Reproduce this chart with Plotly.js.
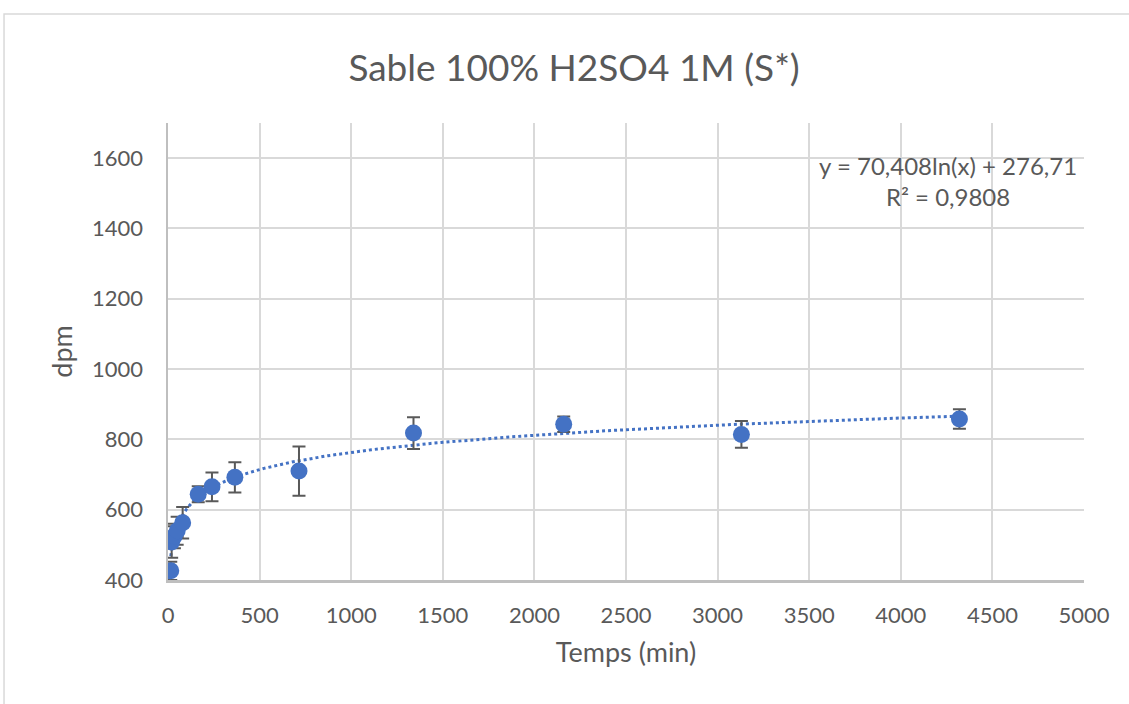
<!DOCTYPE html>
<html>
<head>
<meta charset="utf-8">
<script src="https://cdn.plot.ly/plotly-3.0.1.min.js"></script>
<style>html,body{margin:0;padding:0;background:#fff;}#chart{width:1129px;height:704px;}</style>
</head>
<body>
<div id="chart"></div>
<script>
// Data
var temps = [15, 20, 35, 50, 80, 165, 240, 365, 715, 1340, 2160, 3130, 4320];
var dpm   = [426, 508, 525, 540, 563, 644, 665, 692, 710, 818, 843, 814, 858];
var errDpm = [26, 45, 35, 40, 45, 23, 41, 43, 70, 45, 22, 38, 28];

// Logarithmic trendline shown on the chart: y = a ln(x) + b
var trendA = 70.408;
var trendB = 276.71;
var trendLabel = "y = 70,408ln(x) + 276,71";
var r2Label = "R² = 0,9808";

var xTicks = [0, 500, 1000, 1500, 2000, 2500, 3000, 3500, 4000, 4500, 5000];
var yTicks = [400, 600, 800, 1000, 1200, 1400, 1600];

var tx = [], ty = [];
var xmin = temps[0], xmax = temps[temps.length - 1];
for (var i = 0; i <= 400; i++) {
  var x = Math.exp(Math.log(xmin) + (Math.log(xmax) - Math.log(xmin)) * i / 400);
  tx.push(x); ty.push(trendA * Math.log(x) + trendB);
}

var font = "Lato, 'Open Sans', sans-serif";
var traces = [
  {x: tx, y: ty, type: 'scatter', mode: 'lines', hoverinfo: 'skip',
   line: {color: '#4472C4', width: 3, dash: 'dot'}},
  {x: temps, y: dpm, type: 'scatter', mode: 'markers',
   marker: {color: '#4472C4', size: 17},
   error_y: {type: 'data', array: errDpm, visible: true, color: '#595959', thickness: 2, width: 6.5}}
];

var layout = {
  width: 1129, height: 704,
  margin: {l: 168, r: 45, t: 123, b: 124},
  paper_bgcolor: '#fff', plot_bgcolor: '#fff',
  showlegend: false,
  font: {family: font, color: '#595959', size: 22},
  title: {text: 'Sable 100% H2SO4 1M (S*)', x: 0.5085, xanchor: 'center', y: 0.903, yanchor: 'middle',
          font: {family: font, size: 37, color: '#595959'}},
  xaxis: {range: [0, 5000], tickvals: xTicks, ticktext: xTicks.map(String),
          showgrid: true, gridcolor: '#d9d9d9', gridwidth: 2,
          showline: true, linecolor: '#bfbfbf', linewidth: 2.5,
          zeroline: false, ticks: '', ticklabelstandoff: 14,
          tickfont: {family: font, size: 22, color: '#595959'},
          title: {text: 'Temps (min)', standoff: 16, font: {family: font, size: 27, color: '#595959'}}},
  yaxis: {range: [400, 1700], tickvals: yTicks, ticktext: yTicks.map(String),
          showgrid: true, gridcolor: '#d9d9d9', gridwidth: 2,
          showline: true, linecolor: '#bfbfbf', linewidth: 2.5,
          zeroline: false, ticks: '', ticklabelstandoff: 18,
          tickfont: {family: font, size: 22, color: '#595959'},
          title: {text: 'dpm', standoff: 12, font: {family: font, size: 27, color: '#595959'}}},
  annotations: [
    {xref: 'paper', yref: 'paper', x: 0.851, y: 0.873, text: trendLabel + '<br>' + r2Label,
     showarrow: false, align: 'center', xanchor: 'center', yanchor: 'middle',
     font: {family: font, size: 24, color: '#595959'}}
  ],
  shapes: [
    {type: 'rect', xref: 'paper', yref: 'paper', x0: -0.179, x1: 1.06, y0: -0.29, y1: 1.2385,
     line: {color: '#d9d9d9', width: 1.5}, fillcolor: 'rgba(0,0,0,0)', layer: 'below'}
  ]
};

Plotly.newPlot('chart', traces, layout, {displayModeBar: false, staticPlot: true});
</script>
</body>
</html>
